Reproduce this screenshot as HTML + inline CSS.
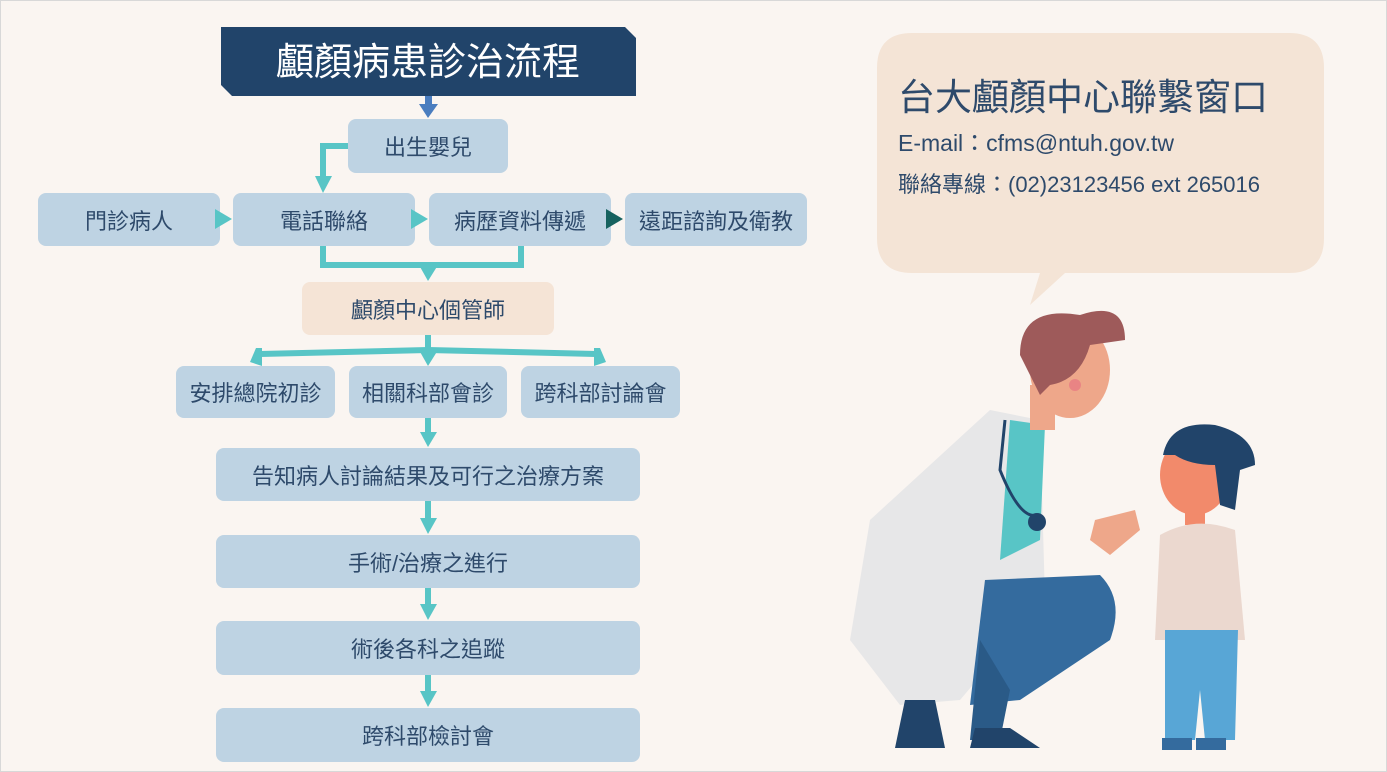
<!DOCTYPE html>
<html><head><meta charset="utf-8"><style>
html,body{margin:0;padding:0}
body{width:1387px;height:772px;background:#faf5f1;position:relative;overflow:hidden;font-family:"Liberation Sans","Noto Sans CJK TC",sans-serif;}
.frame{position:absolute;left:0;top:0;width:1385px;height:770px;border:1px solid #d8d8d8}
.b{position:absolute;background:#bed3e3;border-radius:8px;color:#2e4a6b;font-size:22px;display:flex;align-items:center;justify-content:center;}
.p{background:#f5e4d6}
svg.top{position:absolute;left:0;top:0;z-index:2}
</style></head><body>
<div class="frame"></div>
<svg width="1387" height="772" style="position:absolute;left:0;top:0">
<polygon points="221,27 625,27 636,38 636,96 232,96 221,85" fill="#21446a"/>
<rect x="425" y="96" width="7" height="10" fill="#4a7dbf"/>
<polygon points="419,104 438,104 428,118" fill="#4a7dbf"/>
<g fill="none" stroke="#58c5c6" stroke-width="6">
<polyline points="350,146 323,146 323,180"/>
<polyline points="323,246 323,265 521,265 521,246"/>
<line x1="428" y1="335" x2="428" y2="352"/>
<polyline points="260,354 428,350 596,354"/>
<line x1="428" y1="418" x2="428" y2="436"/>
<line x1="428" y1="501" x2="428" y2="522"/>
<line x1="428" y1="588" x2="428" y2="608"/>
<line x1="428" y1="675" x2="428" y2="695"/>
</g>
<g fill="#58c5c6">
<polygon points="315,176 332,176 323,193"/>
<polygon points="419,265 438,265 428,281"/>
<polygon points="256,348 262,348 262,366 250,362"/>
<polygon points="419,350 438,350 428,366"/>
<polygon points="594,348 600,348 606,362 594,366"/>
<polygon points="420,432 437,432 428,447"/>
<polygon points="420,518 437,518 428,534"/>
<polygon points="420,604 437,604 428,620"/>
<polygon points="420,691 437,691 428,707"/>
</g>
<text x="428" y="75" fill="#fff" font-size="38" text-anchor="middle" font-family="Liberation Sans,Noto Sans CJK TC,sans-serif">顱顏病患診治流程</text>
<path d="M912,33 H1289 Q1324,33 1324,68 V238 Q1324,273 1289,273 H1065 L1030,305 L1040,273 H912 Q877,273 877,238 V68 Q877,33 912,33Z" fill="#f4e4d6"/>
<text x="898" y="110" fill="#2e4a6b" font-size="37" font-family="Liberation Sans,Noto Sans CJK TC,sans-serif">台大顱顏中心聯繫窗口</text>
<text x="898" y="151" fill="#2e4a6b" font-size="23" font-family="Liberation Sans,Noto Sans CJK TC,sans-serif">E-mail：cfms@ntuh.gov.tw</text>
<text x="898" y="192" fill="#2e4a6b" font-size="22" font-family="Liberation Sans,Noto Sans CJK TC,sans-serif">聯絡專線：(02)23123456 ext 265016</text>
<path d="M990,410 L1040,420 L1045,600 L960,700 L900,705 L850,640 L870,520 Z" fill="#e7e7e8"/>
<path d="M1010,420 L1045,425 L1040,540 L1000,560 Z" fill="#58c5c6"/>
<path d="M985,580 L1100,575 Q1125,600 1110,640 L1020,700 L970,705 Z" fill="#346b9e"/>
<path d="M980,640 L1010,690 L1000,740 L970,740 Z" fill="#2a5a87"/>
<path d="M905,700 L935,700 L945,748 L895,748 Z" fill="#21446a"/>
<path d="M975,728 L1010,728 L1040,748 L970,748 Z" fill="#21446a"/>
<rect x="1030" y="385" width="25" height="45" fill="#eea78a"/>
<ellipse cx="1070" cy="370" rx="40" ry="48" fill="#eea78a"/>
<path d="M1020,355 Q1020,305 1080,315 Q1125,300 1125,340 L1090,345 Q1080,380 1050,385 L1040,395 Z" fill="#9e5a5a"/>
<circle cx="1075" cy="385" r="6" fill="#e98484"/>
<path d="M1095,520 L1135,510 L1140,530 L1110,555 L1090,540Z" fill="#eea78a"/>
<circle cx="1037" cy="522" r="9" fill="#21446a"/>
<path d="M1005,420 L1000,470 Q1020,520 1037,515" stroke="#21446a" stroke-width="3" fill="none"/>
<rect x="1185" y="500" width="20" height="25" fill="#f28a6b"/>
<ellipse cx="1195" cy="475" rx="35" ry="40" fill="#f28a6b"/>
<path d="M1163,455 Q1170,420 1215,425 Q1255,435 1255,465 L1240,470 L1235,510 L1220,505 L1215,465 Q1190,465 1175,455Z" fill="#21446a"/>
<path d="M1160,535 Q1195,515 1235,530 L1245,640 L1155,640 Z" fill="#ebd8cf"/>
<path d="M1165,630 L1238,630 L1235,740 L1205,740 L1200,690 L1195,740 L1165,740 Z" fill="#58a6d6"/>
<rect x="1162" y="738" width="30" height="12" fill="#346b9e"/>
<rect x="1196" y="738" width="30" height="12" fill="#346b9e"/>
</svg>
<svg class="top" width="1387" height="772">
<polygon points="215,209 215,229 232,219" fill="#58c5c6"/>
<polygon points="411,209 411,229 428,219" fill="#58c5c6"/>
<polygon points="606,209 606,229 623,219" fill="#17625f"/>
</svg>
<div class="b" style="left:348px;top:119px;width:160px;height:54px">出生嬰兒</div>
<div class="b" style="left:38px;top:193px;width:182px;height:53px">門診病人</div>
<div class="b" style="left:233px;top:193px;width:182px;height:53px">電話聯絡</div>
<div class="b" style="left:429px;top:193px;width:182px;height:53px">病歷資料傳遞</div>
<div class="b" style="left:625px;top:193px;width:182px;height:53px">遠距諮詢及衛教</div>
<div class="b p" style="left:302px;top:282px;width:252px;height:53px">顱顏中心個管師</div>
<div class="b" style="left:176px;top:366px;width:159px;height:52px">安排總院初診</div>
<div class="b" style="left:349px;top:366px;width:158px;height:52px">相關科部會診</div>
<div class="b" style="left:521px;top:366px;width:159px;height:52px">跨科部討論會</div>
<div class="b" style="left:216px;top:448px;width:424px;height:53px">告知病人討論結果及可行之治療方案</div>
<div class="b" style="left:216px;top:535px;width:424px;height:53px">手術/治療之進行</div>
<div class="b" style="left:216px;top:621px;width:424px;height:54px">術後各科之追蹤</div>
<div class="b" style="left:216px;top:708px;width:424px;height:54px">跨科部檢討會</div>
</body></html>
